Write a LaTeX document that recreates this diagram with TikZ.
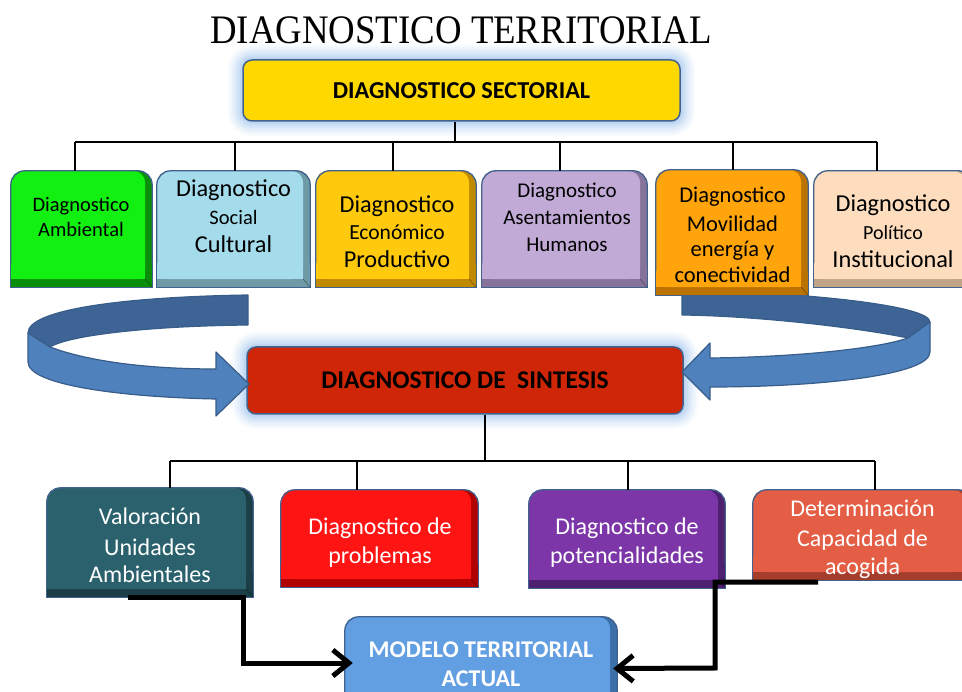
\documentclass[tikz,border=0pt]{standalone}
\usepackage{fontspec}
\setmainfont{Carlito}
\newfontfamily\titlefont{Liberation Serif}
\usepackage{graphicx}
\usetikzlibrary{arrows.meta}
\definecolor{edgec}{HTML}{41628F}
\definecolor{glowc}{HTML}{8DB8EA}
\definecolor{goldc}{HTML}{FFD800}
\definecolor{sintc}{HTML}{D02608}
\definecolor{ribfront}{HTML}{4F81BD}
\definecolor{ribback}{HTML}{3D6495}
\definecolor{ribedge}{HTML}{385D8A}
\definecolor{cgreen}{HTML}{12F012}\definecolor{dgreen}{HTML}{0B8F0B}
\definecolor{cblue}{HTML}{A5DCEC}\definecolor{dblue}{HTML}{6E9AA6}
\definecolor{cyel}{HTML}{FFC90E}\definecolor{dyel}{HTML}{C08A00}
\definecolor{clav}{HTML}{C1AAD6}\definecolor{dlav}{HTML}{86739A}
\definecolor{corg}{HTML}{FFA40A}\definecolor{dorg}{HTML}{BA7200}
\definecolor{cpea}{HTML}{FDDDBD}\definecolor{dpea}{HTML}{C0A488}
\definecolor{cteal}{HTML}{2A616C}\definecolor{dteal}{HTML}{1C3E46}
\definecolor{cred}{HTML}{FF1414}\definecolor{dred}{HTML}{B00000}
\definecolor{cpur}{HTML}{7C36A8}\definecolor{dpur}{HTML}{4E2070}
\definecolor{ccor}{HTML}{E45E45}\definecolor{dcor}{HTML}{A53D2C}
\definecolor{cmod}{HTML}{629EE2}\definecolor{dmod}{HTML}{3D6FA8}
\newcommand\fsz[1]{\fontsize{#1}{#1}\selectfont}
\newcommand\tl[6]{\node[txt,text=#6,font=\fsz{#4}] (#1) at (#2,#3) {#5};}
\newcommand\bev[3]{%
 \fill[#3, rounded corners=14pt] (#1.south west) -- (#1.north west) -- (#1.north east) -- (#1.south east) -- cycle;
 \fill[#3] ([yshift=20pt]#1.south west) rectangle (#1.south east);
 \fill[#2, rounded corners=12pt] ([yshift=8pt]#1.south west) -- (#1.north west) -- ([xshift=-7pt]#1.north east) -- ([shift={(-7pt,8pt)}]#1.south east) -- cycle;
 \fill[#2] ([yshift=28pt]#1.south west) rectangle ([shift={(-7pt,8pt)}]#1.south east);
 \draw[#3!60!black, line width=0.6pt] ([shift={(-7pt,8pt)}]#1.south east) -- (#1.south east);
 \draw[edgeline, rounded corners=14pt] ([yshift=24pt]#1.south west) -- (#1.north west) -- (#1.north east) -- ([yshift=24pt]#1.south east);
 \draw[edgeline] ([yshift=24pt]#1.south west) -- (#1.south west) -- (#1.south east) -- ([yshift=24pt]#1.south east);
}
\tikzset{
 tree/.style={line width=2pt, draw=black},
 fat/.style={line width=5pt, draw=black, line join=miter, -{Straight Barb[length=16pt,width=26pt]}},
 edgeline/.style={draw=edgec, line width=1.3pt},
 boxn/.style={inner sep=0pt, draw=none},
 txt/.style={anchor=base, inner sep=0pt},
 ribbon/.style={draw=ribedge, line width=1.2pt, line join=round},
 glowbox/.style={rounded corners=9pt,
   preaction={draw=glowc, line width=30pt, opacity=0.06},
   preaction={draw=glowc, line width=26pt, opacity=0.07},
   preaction={draw=glowc, line width=22pt, opacity=0.08},
   preaction={draw=glowc, line width=18pt, opacity=0.10},
   preaction={draw=glowc, line width=14pt, opacity=0.12},
   preaction={draw=glowc, line width=10pt, opacity=0.15},
   preaction={draw=glowc, line width=6pt, opacity=0.2},
   draw=edgec, line width=1.5pt, inner sep=0pt},
}
\begin{document}
\begin{tikzpicture}[x=1pt,y=-1pt]
\useasboundingbox (0,0) rectangle (962,692);
\clip (0,0) rectangle (962,692);
% title
\node[txt, font=\titlefont\fsz{36.8}] (title) at (461,44) {\scalebox{1}[1.1]{DIAGNOSTICO TERRITORIAL}};
% top boxes
\node[glowbox, fill=goldc, minimum width=437pt, minimum height=61pt, font=\fsz{24.3}\bfseries] (sect) at (461.5,90.5) {DIAGNOSTICO SECTORIAL};
\node[glowbox, fill=sintc, minimum width=436pt, minimum height=67pt, font=\fsz{25.5}\bfseries] (sint) at (465,380.5) {DIAGNOSTICO DE~~SINTESIS};
% ribbons
\filldraw[ribbon, fill=ribback] (248,295) .. controls (120,297) and (28,310) .. (28,333) -- (50,347) .. controls (70,335) and (150,326) .. (248,325) -- cycle;
\filldraw[ribbon, fill=ribfront] (28,333) -- (50,347) .. controls (90,362) and (150,369) .. (216,369) -- (216,352) -- (249,384) -- (216,416) -- (216,399) .. controls (120,397) and (28,385) .. (28,362) -- cycle;
\filldraw[ribbon, fill=ribback] (682,290) .. controls (800,292) and (930,305) .. (930,322) -- (908,338) .. controls (860,328) and (760,316) .. (682,315) -- cycle;
\filldraw[ribbon, fill=ribfront] (930,322) -- (930,352) .. controls (930,375) and (820,387) .. (710,387) -- (710,400) -- (682,372) -- (710,343) -- (710,358) .. controls (800,357) and (880,348) .. (908,338) -- cycle;
% row 1 boxes
\node[boxn, minimum width=141pt, minimum height=116pt] (b1) at (81.5,229) {};
\node[boxn, minimum width=153pt, minimum height=116pt] (b2) at (233.5,229) {};
\node[boxn, minimum width=160pt, minimum height=116pt] (b3) at (396,229) {};
\node[boxn, minimum width=165pt, minimum height=116pt] (b4) at (564.5,229) {};
\node[boxn, minimum width=152pt, minimum height=125pt] (b5) at (732,232.5) {};
\node[boxn, minimum width=158pt, minimum height=116pt] (b6) at (893,229) {};
\bev{b1}{cgreen}{dgreen}
\bev{b2}{cblue}{dblue}
\bev{b3}{cyel}{dyel}
\bev{b4}{clav}{dlav}
\bev{b5}{corg}{dorg}
\bev{b6}{cpea}{dpea}
% tree 1
\coordinate (bus1) at (455,142);
\coordinate (d1) at ([xshift=-6.5pt]b1.north);
\coordinate (d2) at ([xshift=1.5pt]b2.north);
\coordinate (d3) at ([xshift=-3pt]b3.north);
\coordinate (d4) at ([xshift=-4.5pt]b4.north);
\coordinate (d5) at ([xshift=1pt]b5.north);
\coordinate (d6) at ([xshift=-16pt]b6.north);
\draw[tree] ([xshift=-6.5pt]sect.south) -- (bus1);
\draw[tree] (bus1 -| d1) -- (bus1 -| d6);
\foreach \d in {d1,d2,d3,d4,d5,d6} \draw[tree] (bus1 -| \d) -- (\d);
% row 2 boxes
\node[boxn, minimum width=206pt, minimum height=109pt] (c1) at (150,542.5) {};
\node[boxn, minimum width=197pt, minimum height=97pt] (c2) at (379.5,538.5) {};
\node[boxn, minimum width=196pt, minimum height=98pt] (c3) at (627,539) {};
\node[boxn, minimum width=219pt, minimum height=90pt] (c4) at (862.5,535) {};
\node[boxn, minimum width=272pt, minimum height=103pt] (model) at (481,668.5) {};
\bev{c1}{cteal}{dteal}
\bev{c2}{cred}{dred}
\bev{c3}{cpur}{dpur}
\bev{c4}{ccor}{dcor}
\bev{model}{cmod}{dmod}
% tree 2
\coordinate (bus2) at (485,461);
\coordinate (e1) at ([xshift=20pt]c1.north);
\coordinate (e2) at ([xshift=-22.5pt]c2.north);
\coordinate (e3) at ([xshift=1pt]c3.north);
\coordinate (e4) at ([xshift=12.5pt]c4.north);
\draw[tree] ([xshift=20pt]sint.south) -- (bus2);
\draw[tree] (bus2 -| e1) -- (bus2 -| e4);
\foreach \e in {e1,e2,e3,e4} \draw[tree] (bus2 -| \e) -- (\e);
% texts row 1
\tl{t1a}{81}{212}{20.5}{Diagnostico}{black}
\tl{t1b}{81}{236.5}{20.5}{Ambiental}{black}
\tl{t2a}{233.5}{197}{24.3}{Diagnostico}{black}
\tl{t2b}{233.5}{225}{20.5}{Social}{black}
\tl{t2c}{233.5}{253}{24.3}{Cultural}{black}
\tl{t3a}{397}{213}{24.3}{Diagnostico}{black}
\tl{t3b}{397}{240}{21.5}{Económico}{black}
\tl{t3c}{397}{268}{24.3}{Productivo}{black}
\tl{t4a}{567}{198}{21}{Diagnostico}{black}
\tl{t4b}{567}{225}{21}{Asentamientos}{black}
\tl{t4c}{567}{252}{21}{Humanos}{black}
\tl{t5a}{732.5}{203}{22.5}{Diagnostico}{black}
\tl{t5b}{732.5}{232}{22.5}{Movilidad}{black}
\tl{t5c}{732.5}{257}{22.5}{energía y}{black}
\tl{t5d}{732.5}{283}{22.5}{conectividad}{black}
\tl{t6a}{893}{212}{24.3}{Diagnostico}{black}
\tl{t6b}{893}{240}{20}{Político}{black}
\tl{t6c}{893}{268}{24.3}{Institucional}{black}
% texts row 2
\tl{u1a}{150}{525}{24}{Valoración}{white}
\tl{u1b}{150}{555}{24}{Unidades}{white}
\tl{u1c}{150}{583}{24}{Ambientales}{white}
\tl{u2a}{380}{535}{24}{Diagnostico de}{white}
\tl{u2b}{380}{563}{24}{problemas}{white}
\tl{u3a}{627}{535}{24}{Diagnostico de}{white}
\tl{u3b}{627}{563}{24}{potencialidades}{white}
\tl{u4a}{862.5}{517}{24}{Determinación}{white}
\tl{u4b}{862.5}{547}{24}{Capacidad de}{white}
\tl{u4c}{862.5}{574}{24}{acogida}{white}
\tl{m1}{481}{657}{24}{\bfseries MODELO TERRITORIAL}{white}
\tl{m2}{481}{686}{24}{\bfseries ACTUAL}{white}
% fat arrows
\coordinate (fa1) at ([xshift=-22pt]c1.south);
\coordinate (fk1) at (243,663);
\coordinate (mw) at ([shift={(8pt,5.5pt)}]model.west);
\draw[fat] (fa1) -| (fk1) -- (mw);
\coordinate (fa2) at ([shift={(-44.5pt,-2pt)}]c4.south);
\coordinate (fk2) at (715,668);
\coordinate (me) at ([xshift=-4pt]model.east);
\draw[fat] (fa2) -| (fk2) -- (me);
\end{tikzpicture}
\end{document}
